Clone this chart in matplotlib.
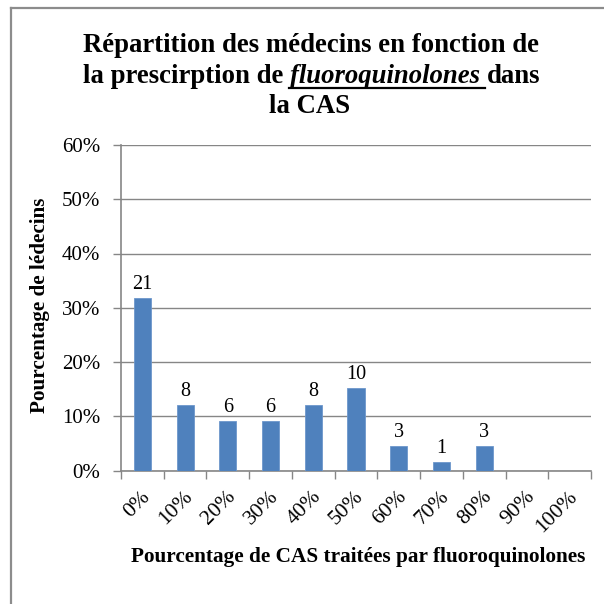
import matplotlib
matplotlib.use('Agg')
import matplotlib.pyplot as plt
from matplotlib.lines import Line2D
from matplotlib.ticker import FixedLocator
from matplotlib.transforms import ScaledTranslation

# ---- data ----
categories = ['0%', '10%', '20%', '30%', '40%', '50%', '60%', '70%', '80%', '90%', '100%']
counts = [21, 8, 6, 6, 8, 10, 3, 1, 3, 0, 0]
percentages = [31.8, 12.1, 9.1, 9.1, 12.1, 15.2, 4.5, 1.5, 4.5, 0.0, 0.0]
y_ticks = [0, 10, 20, 30, 40, 50, 60]
y_tick_labels = ['0%', '10%', '20%', '30%', '40%', '50%', '60%']
title_line1 = 'Répartition des médecins en fonction de'
title_line2_a = 'la prescirption de'
title_line2_b = 'fluoroquinolones'
title_line2_c = 'dans'
title_line3 = 'la CAS'
x_label = 'Pourcentage de CAS traitées par fluoroquinolones'
y_label = 'Pourcentage de lédecins'

W = H = 604
SERIF = 'Liberation Serif'
BAR = '#4F81BD'
GRID = '#868686'
TICK_FS = 15

fig = plt.figure(figsize=(6.04, 6.04), dpi=100)

def fx(px):
    return px / W

def fy(py):
    return 1 - py / H

# figure border (only top and left visible)
fig.add_artist(Line2D([fx(11), fx(11)], [fy(8), -0.1], transform=fig.transFigure,
                      color='#8c8c8c', lw=1.6))
fig.add_artist(Line2D([fx(11), 1.1], [fy(8), fy(8)], transform=fig.transFigure,
                      color='#8c8c8c', lw=1.6))

ax_l, ax_r, ax_t, ax_b = 121, 591, 145, 470.5
ax = fig.add_axes([fx(ax_l), fy(ax_b), (ax_r - ax_l) / W, (ax_b - ax_t) / H])

x = list(range(len(categories)))
ax.bar(x, percentages, width=0.4, color=BAR, edgecolor='#6d97cc', linewidth=0.6, zorder=3)
for xi, p, c in zip(x, percentages, counts):
    if c > 0:
        ax.annotate(str(c), (xi, p), xytext=(0, 3), textcoords='offset points',
                    ha='center', va='bottom', fontsize=14.5, family=SERIF, color='black')

ax.set_xlim(-0.5, len(categories) - 0.5)
ax.set_ylim(0, 60)
ax.yaxis.set_major_locator(FixedLocator(y_ticks))
ax.set_yticklabels(y_tick_labels, fontsize=TICK_FS, family=SERIF)
ax.yaxis.grid(True, color=GRID, lw=1.0, zorder=0)
ax.set_axisbelow(True)

ax.set_xticks(x)
ax.set_xticklabels(categories, rotation=45, ha='right', va='center',
                   rotation_mode='anchor', fontsize=15.5, family=SERIF)
ax.tick_params(axis='x', which='major', length=0, pad=17)
shift = ScaledTranslation(5 / 100, 0 / 100, fig.dpi_scale_trans)
for lab in ax.get_xticklabels():
    lab.set_transform(lab.get_transform() + shift)
ax.set_xticks([i - 0.5 for i in range(len(categories) + 1)], minor=True)
ax.tick_params(axis='x', which='minor', length=6, width=1, color=GRID, direction='out')
ax.tick_params(axis='y', length=6, width=1, color=GRID, direction='out', pad=9)

for s in ['top', 'right']:
    ax.spines[s].set_visible(False)
for s in ['left', 'bottom']:
    ax.spines[s].set_color(GRID)
    ax.spines[s].set_linewidth(1.2)

# axis labels
fig.text(fx(40), fy(305), y_label, rotation=90, ha='center', va='center',
         fontsize=15.2, fontweight='bold', family=SERIF)
fig.text(fx(358), fy(557), x_label, ha='center', va='center',
         fontsize=15.3, fontweight='bold', family=SERIF)

# title
TS = 19.3
fig.text(fx(311), fy(52), title_line1, ha='center', va='baseline', fontsize=TS,
         fontweight='bold', family=SERIF)
fig.text(fx(310), fy(113), title_line3, ha='center', va='baseline', fontsize=TS,
         fontweight='bold', family=SERIF)

fig.canvas.draw()
r = fig.canvas.get_renderer()

def width_of(s, **kw):
    t = fig.text(0, 0, s, fontsize=TS, fontweight='bold', family=SERIF, **kw)
    w = t.get_window_extent(r).width
    t.remove()
    return w

wa = width_of(title_line2_a)
wb = width_of(title_line2_b, style='italic')
wc = width_of(title_line2_c)
sp = width_of('a a') - width_of('aa')
total = wa + sp + wb + sp + wc
x0 = 312 - total / 2
base = 83
fig.text(fx(x0), fy(base), title_line2_a, ha='left', va='baseline', fontsize=TS,
         fontweight='bold', family=SERIF)
xb = x0 + wa + sp
fig.text(fx(xb), fy(base), title_line2_b, ha='left', va='baseline', fontsize=TS,
         fontweight='bold', style='italic', family=SERIF)
xc = xb + wb + sp
fig.text(fx(xc), fy(base), title_line2_c, ha='left', va='baseline', fontsize=TS,
         fontweight='bold', family=SERIF)
fig.add_artist(Line2D([fx(xb - 1), fx(xc - 2)], [fy(base + 5), fy(base + 5)],
                      transform=fig.transFigure, color='black', lw=1.6))

fig.savefig('out.png', dpi=100, facecolor='white')
